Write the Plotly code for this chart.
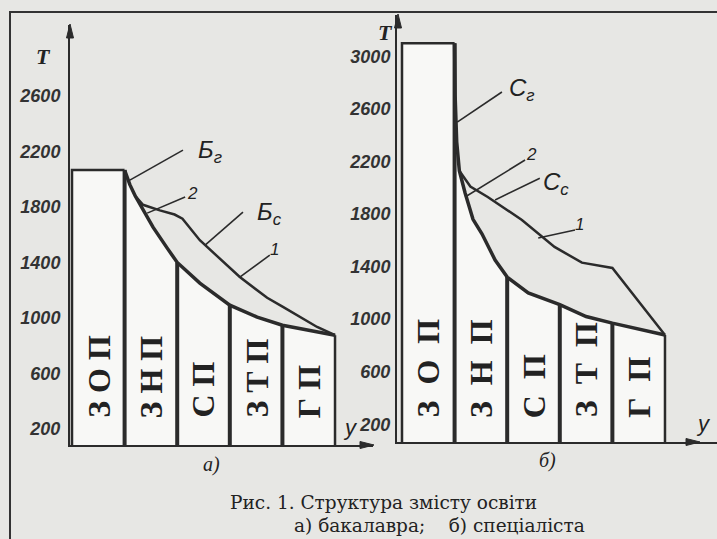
import plotly.graph_objects as go

# ---------------- data ----------------
categories = ["З О П", "З Н П", "С П", "З Т П", "Г П"]
boundaries = [0, 1, 2, 3, 4, 5]

# (a) бакалавр
a_zop_top = 2065
a_edge_tops = [2065, 2065, 1400, 1092, 948, 876]
a_env_x = [1.0, 1.1, 1.2, 1.29, 1.54, 1.81, 2.0, 2.43, 3.0, 3.52, 4.0, 5.0]
a_env_t = [2065, 1960, 1880, 1820, 1654, 1503, 1400, 1251, 1092, 1006, 948, 876]
a_c1_x = [1.2, 1.35, 1.67, 1.95, 2.1, 2.43, 3.19, 3.71, 4.01, 4.66, 5.0]
a_c1_t = [1880, 1815, 1775, 1745, 1715, 1560, 1295, 1145, 1080, 935, 876]
a_ticks = [200, 600, 1000, 1400, 1800, 2200, 2600]

# (b) спеціаліст
b_zop_top = 3100
b_edge_tops = [3100, 3100, 1320, 1110, 970, 880]
b_env_x = [1.0, 1.01, 1.04, 1.09, 1.2, 1.35, 1.52, 1.77, 2.0, 2.4, 3.0, 3.5, 4.0, 5.0]
b_env_t = [3100, 2700, 2350, 2130, 1960, 1760, 1650, 1450, 1320, 1200, 1110, 1020, 970, 880]
b_c1_x = [1.09, 1.3, 1.63, 2.28, 2.9, 3.42, 4.0, 5.0]
b_c1_t = [2130, 2010, 1930, 1755, 1550, 1430, 1390, 880]
b_ticks = [200, 600, 1000, 1400, 1800, 2200, 2600, 3000]

# leader lines: (text, text_x, text_y, from_x, from_y, to_x, to_y)
a_notes = [
    ("Б<sub>г</sub>", 2.62, 2200, 2.11, 2209, 1.10, 1993),
    ("2", 2.30, 1900, 2.15, 1871, 1.43, 1755),
    ("Б<sub>с</sub>", 3.76, 1750, 3.25, 1762, 2.53, 1525),
    ("1", 3.84, 1495, 3.76, 1453, 3.19, 1294),
]
b_notes = [
    ("С<sub>г</sub>", 2.28, 2750, 1.90, 2729, 1.05, 2500),
    ("2", 2.47, 2250, 2.34, 2211, 1.20, 1930),
    ("С<sub>с</sub>", 2.92, 2035, 2.62, 2073, 1.77, 1907),
    ("1", 3.38, 1720, 3.29, 1679, 2.59, 1618),
]

BG = "#e7e7e4"
INK = "#2b2b2b"
FILL = "#f8f8f6"

fig = go.Figure()


def add_panel(xa, ya, zop_top, edge_tops, env_x, env_t, c1_x, c1_t):
    base = 0
    px = [0, 0] + env_x + [5, 5]
    py = [base, zop_top] + env_t + [env_t[-1], base]
    fig.add_trace(go.Scatter(x=px, y=py, fill="toself", fillcolor=FILL, mode="none",
                             xaxis=xa, yaxis=ya, hoverinfo="skip", showlegend=False))
    fig.add_trace(go.Scatter(x=[0, 0, 1], y=[base, zop_top, zop_top], mode="lines",
                             line=dict(color=INK, width=2.5), xaxis=xa, yaxis=ya,
                             hoverinfo="skip", showlegend=False))
    dx, dy = [], []
    for b, t in zip(boundaries[1:5], edge_tops[1:5]):
        dx += [b, b, None]
        dy += [base, t, None]
    fig.add_trace(go.Scatter(x=dx, y=dy, mode="lines", line=dict(color=INK, width=4),
                             xaxis=xa, yaxis=ya, hoverinfo="skip", showlegend=False))
    fig.add_trace(go.Scatter(x=[boundaries[5], boundaries[5]], y=[base, edge_tops[5]], mode="lines",
                             line=dict(color=INK, width=2.5), xaxis=xa, yaxis=ya,
                             hoverinfo="skip", showlegend=False))
    fig.add_trace(go.Scatter(x=env_x, y=env_t, mode="lines", line=dict(color=INK, width=3.5),
                             xaxis=xa, yaxis=ya, hoverinfo="skip", showlegend=False))
    fig.add_trace(go.Scatter(x=c1_x, y=c1_t, mode="lines", line=dict(color=INK, width=2.5),
                             xaxis=xa, yaxis=ya, hoverinfo="skip", showlegend=False))


add_panel("x", "y", a_zop_top, a_edge_tops, a_env_x, a_env_t, a_c1_x, a_c1_t)
add_panel("x2", "y2", b_zop_top, b_edge_tops, b_env_x, b_env_t, b_c1_x, b_c1_t)

W, H = 717, 539
tickfont = dict(family="Liberation Sans", size=18, color="#333", weight="bold", style="italic")

annotations = []
shapes = []
serif = "Liberation Serif"

# category labels (rotated)
for xr, yr, yv, wide in (("x", "y", 265, False), ("x2", "y2", 235, True)):
    for i, c in enumerate(categories):
        txt = c.replace(" ", "  ") if wide else c
        annotations.append(dict(x=i + 0.5, y=yv, xref=xr, yref=yr, text=txt, showarrow=False,
                                textangle=-90, xanchor="center", yanchor="bottom",
                                font=dict(family=serif, size=32, color="#222", weight="bold")))

# leaders (lines as shapes, labels as annotations)
for xr, yr, notes in (("x", "y", a_notes), ("x2", "y2", b_notes)):
    for txt, tx, ty, fx, fy, x2, y2 in notes:
        shapes.append(dict(type="line", xref=xr, yref=yr, x0=fx, y0=fy, x1=x2, y1=y2,
                           line=dict(color=INK, width=1.6)))
        big = not txt.isdigit()
        annotations.append(dict(x=tx, y=ty, xref=xr, yref=yr, text=txt, showarrow=False,
                                xanchor="center", yanchor="middle",
                                font=dict(family="Liberation Sans", size=24 if big else 17,
                                          color="#222", style="italic")))


def P(px, py):
    return px / W, 1 - py / H


def tri(p1, p2, p3):
    pts = [P(*p) for p in (p1, p2, p3)]
    return "M {} {} L {} {} L {} {} Z".format(pts[0][0], pts[0][1], pts[1][0], pts[1][1],
                                               pts[2][0], pts[2][1])


# axis arrowheads (paper-coordinate triangles)
for p1, p2, p3 in (((70, 24), (66.5, 38), (73.5, 38)),
                   ((398, 14), (394.5, 28), (401.5, 28)),
                   ((374, 445), (360, 441.5), (360, 448.5)),
                   ((700, 442), (686, 438.5), (686, 445.5))):
    shapes.append(dict(type="path", xref="paper", yref="paper", path=tri(p1, p2, p3),
                       fillcolor=INK, line=dict(color=INK, width=1)))

# axis letters
for txt, px_, py_, fam, size in (("T", 43, 57, serif, 22), ("T", 385, 33, serif, 22),
                                  ("у", 350, 427, "Liberation Sans", 22), ("у", 703, 424, "Liberation Sans", 22),
                                  ("а)", 211, 464, serif, 20), ("б)", 547, 460, serif, 20)):
    x, y = P(px_, py_)
    annotations.append(dict(x=x, y=y, xref="paper", yref="paper", text=txt, showarrow=False,
                            xanchor="center", yanchor="middle",
                            font=dict(family=fam, size=size, color="#222", style="italic",
                                      weight="bold" if txt == "T" else "normal")))

# caption
for txt, px_, py_ in (("Рис. 1. Структура змісту освіти", 384, 502),
                      ("а) бакалавра;    б) спеціаліста", 439, 525)):
    x, y = P(px_, py_)
    annotations.append(dict(x=x, y=y, xref="paper", yref="paper", text=txt, showarrow=False,
                            xanchor="center", yanchor="middle",
                            font=dict(family="DejaVu Serif", size=18.5, color="#222")))

shapes += [
    dict(type="line", xref="paper", yref="paper", x0=9 / W, x1=1, y0=1 - 12 / H, y1=1 - 12 / H,
         line=dict(color="#333", width=2)),
    dict(type="line", xref="paper", yref="paper", x0=10 / W, x1=10 / W, y0=0, y1=1 - 12 / H,
         line=dict(color="#333", width=2)),
]

axis_common = dict(showgrid=False, zeroline=False, showline=True, linecolor=INK, linewidth=2)

fig.update_layout(
    width=W, height=H, autosize=False,
    margin=dict(l=0, r=0, t=0, b=0),
    paper_bgcolor=BG, plot_bgcolor="rgba(0,0,0,0)",
    showlegend=False,
    xaxis=dict(domain=[70 / W, 373 / W], range=[-0.038, 5.722], showticklabels=False, ticks="",
               **axis_common),
    yaxis=dict(domain=[1 - 445 / H, 1 - 25 / H], range=[85, 3110], tickvals=a_ticks, ticks="",
               tickfont=tickfont, ticklabelstandoff=4, **axis_common),
    xaxis2=dict(domain=[397 / W, 1.0], range=[-0.095, 5.989], showticklabels=False, ticks="",
                anchor="y2", **axis_common),
    yaxis2=dict(domain=[1 - 442 / H, 1 - 15 / H], range=[65, 3315], tickvals=b_ticks, ticks="",
                anchor="x2", tickfont=tickfont, ticklabelstandoff=1, **axis_common),
    annotations=annotations,
    shapes=shapes,
)

fig.write_html("out.html",
               config={"displayModeBar": False, "staticPlot": True},
               post_script="document.body.style.margin='0';"
                           "document.body.style.background='" + BG + "';"
                           "document.documentElement.style.overflow='hidden';")
